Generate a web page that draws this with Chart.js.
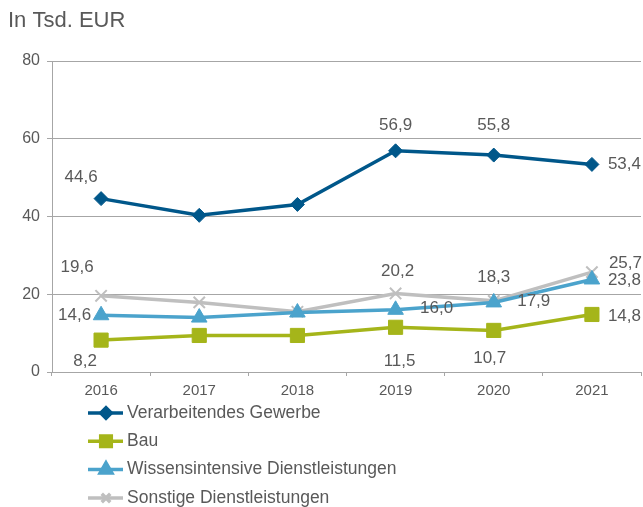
<!DOCTYPE html>
<html>
<head>
<meta charset="utf-8">
<script src="https://cdn.jsdelivr.net/npm/chart.js@4/dist/chart.umd.min.js"></script>
<style>
    html, body { margin: 0; padding: 0; background: #fff; }
    #wrap { width: 643px; height: 507px; position: relative; }
</style>
</head>
<body>
<div id="wrap"><canvas id="chart"></canvas></div>
<script>
const years = ['2016', '2017', '2018', '2019', '2020', '2021'];
const seriesNames = [
    'Verarbeitendes Gewerbe',
    'Bau',
    'Wissensintensive Dienstleistungen',
    'Sonstige Dienstleistungen',
];
const verarbeitendes = [44.6, 40.3, 43.1, 56.9, 55.8, 53.4];
const bau = [8.2, 9.4, 9.4, 11.5, 10.7, 14.8];
const wissensintensiv = [14.6, 14.0, 15.3, 16.0, 17.9, 23.8];
const sonstige = [19.6, 17.9, 15.5, 20.2, 18.3, 25.7];
const yTicks = [0, 20, 40, 60, 80];
const labeledYears = ['2016', '2019', '2020', '2021'];

const textColor = '#595959';
const gridColor = '#a6a6a6';
const fontFamily = "'Liberation Sans', Arial, sans-serif";

// label placement per series, relative to the marker: [dx, dy, align]
const labelPlacement = [
    [[-20, -21, 'center'], [0, -25, 'center'], [0, -30, 'center'], [16, 0, 'left']],
    [[-16, 21, 'center'], [4, 34, 'center'], [-4, 28, 'center'], [16, 2, 'left']],
    [[-10, 0, 'right'], [41, -1, 'center'], [40, -1, 'center'], [16, 1, 'left']],
    [[-24, -28, 'center'], [2, -22, 'center'], [0, -24, 'center'], [17, -9, 'left']],
];

function makeDataset(label, data, color, style, radius, borderWidth) {
    return {
        label: label,
        data: data,
        borderColor: color,
        backgroundColor: color,
        borderWidth: 3.5,
        pointStyle: style,
        pointRadius: radius,
        pointHoverRadius: radius,
        pointBorderWidth: borderWidth,
        pointBackgroundColor: color,
        pointBorderColor: color,
        tension: 0,
    };
}

const datasets = [
    makeDataset(seriesNames[0], verarbeitendes, '#00578a', 'rectRot', 7, 1),
    makeDataset(seriesNames[1], bau, '#a5b51a', 'rect', 10, 1),
    makeDataset(seriesNames[2], wissensintensiv, '#4ba3cc', 'triangle', 9, 1),
    makeDataset(seriesNames[3], sonstige, '#bfbfbf', 'crossRot', 8, 2),
];

const fmt = v => v.toFixed(1).replace('.', ',');

// draws the value labels, the unit caption and the vertical legend
const extras = {
    id: 'extras',
    afterDatasetsDraw(chart) {
        const ctx = chart.ctx;
        ctx.save();
        ctx.fillStyle = textColor;
        ctx.font = '17px ' + fontFamily;
        ctx.textBaseline = 'middle';
        chart.data.datasets.forEach((ds, di) => {
            const meta = chart.getDatasetMeta(di);
            labeledYears.forEach((yr, li) => {
                const idx = years.indexOf(yr);
                const pt = meta.data[idx];
                const [dx, dy, align] = labelPlacement[di][li];
                ctx.textAlign = align;
                ctx.fillText(fmt(ds.data[idx]), pt.x + dx, pt.y + dy);
            });
        });

        // unit caption
        ctx.textAlign = 'left';
        ctx.font = '22px ' + fontFamily;
        ctx.fillText('In Tsd. EUR', 8, 21);

        // legend
        ctx.font = '17.5px ' + fontFamily;
        chart.data.datasets.forEach((ds, di) => {
            const y = 413 + di * 28.3;
            ctx.strokeStyle = ds.borderColor;
            ctx.lineWidth = 3.5;
            ctx.beginPath();
            ctx.moveTo(88, y);
            ctx.lineTo(123, y);
            ctx.stroke();
            ctx.fillStyle = ds.backgroundColor;
            Chart.helpers.drawPoint(ctx, {
                pointStyle: ds.pointStyle,
                radius: ds.pointRadius * 0.75,
                rotation: 0,
                borderWidth: ds.pointBorderWidth,
            }, 106, y);
            if (ds.pointStyle !== 'crossRot') ctx.fill();
            ctx.fillStyle = textColor;
            ctx.fillText(ds.label, 127, y);
        });
        ctx.restore();
    }
};

new Chart(document.getElementById('chart'), {
    type: 'line',
    data: { labels: years, datasets: datasets },
    plugins: [extras],
    options: {
        responsive: true,
        maintainAspectRatio: false,
        animation: false,
        layout: { autoPadding: false, padding: { top: 61, right: 2, bottom: 105, left: 0 } },
        plugins: {
            legend: { display: false },
            tooltip: { enabled: false },
        },
        scales: {
            x: {
                offset: true,
                afterFit: scale => { scale.height = 30; },
                grid: {
                    offset: true,
                    drawOnChartArea: false,
                    color: gridColor,
                    tickLength: 4,
                },
                border: { color: gridColor },
                ticks: { color: textColor, font: { size: 15, family: fontFamily }, padding: 6 },
            },
            y: {
                min: 0,
                max: 80,
                afterFit: scale => { scale.width = 52; },
                afterBuildTicks: scale => { scale.ticks = yTicks.map(v => ({ value: v })); },
                grid: { color: gridColor, tickLength: 5 },
                border: { color: gridColor },
                ticks: { color: textColor, font: { size: 16, family: fontFamily }, padding: 7 },
            },
        },
    },
});
</script>
</body>
</html>
